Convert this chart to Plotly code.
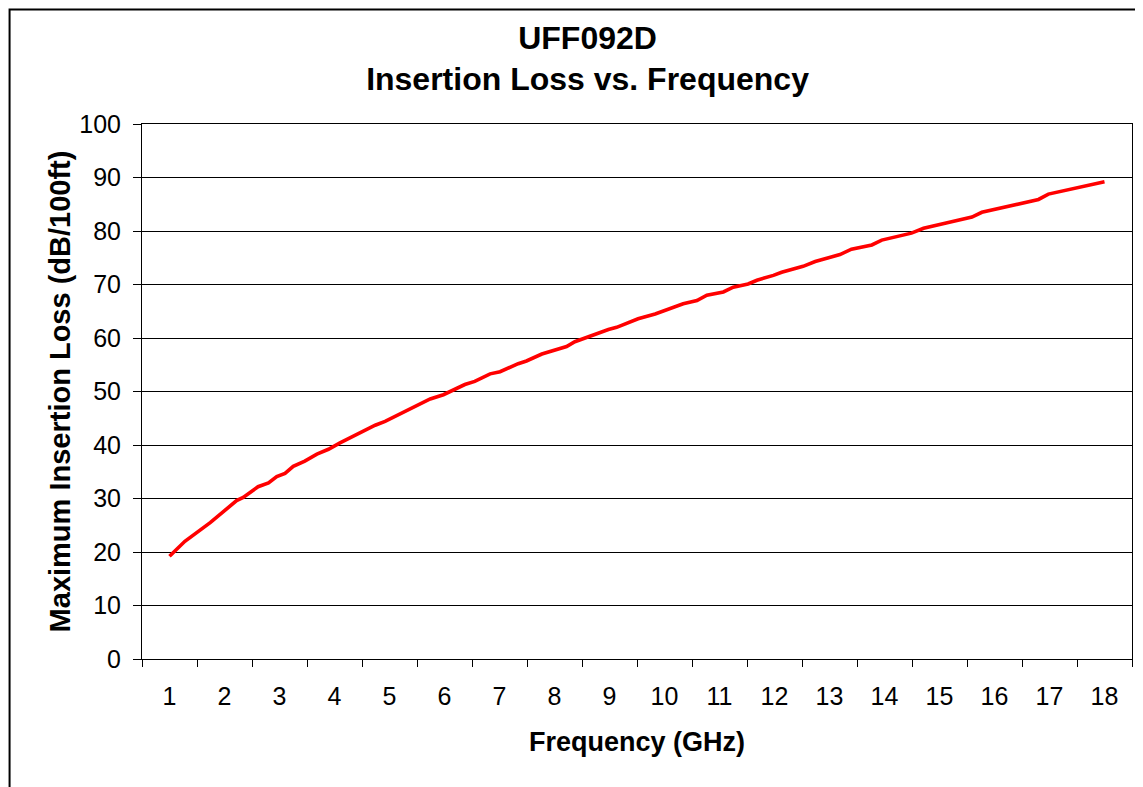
import plotly.graph_objects as go

# Frequency (GHz) and maximum insertion loss (dB/100ft)
freq_ghz = [1.00, 1.28, 1.74, 2.22, 2.34, 2.61, 2.80, 2.95, 3.10, 3.25, 3.46, 3.68, 3.89,
            4.10, 4.74, 4.92, 5.74, 5.98, 6.37, 6.55, 6.83, 7.01, 7.34, 7.49, 7.77,
            8.22, 8.37, 8.55, 8.74, 8.98, 9.13, 9.34, 9.52, 9.83, 10.34, 10.59, 10.77,
            11.07, 11.25, 11.52, 11.68, 11.98, 12.13, 12.52, 12.74, 13.19, 13.40, 13.77,
            13.95, 14.49, 14.71, 15.16, 15.59, 15.77, 16.19, 16.80, 16.98, 18.00]
loss_db = [19.2, 22.0, 25.5, 29.6, 30.2, 32.2, 32.9, 34.1, 34.7, 36.0, 37.0, 38.3, 39.2,
           40.4, 43.7, 44.4, 48.6, 49.4, 51.3, 51.9, 53.3, 53.7, 55.2, 55.7, 57.0,
           58.4, 59.3, 60.0, 60.6, 61.6, 62.0, 62.8, 63.6, 64.5, 66.4, 67.0, 68.0,
           68.6, 69.5, 70.1, 70.8, 71.7, 72.3, 73.4, 74.3, 75.6, 76.6, 77.4,
           78.3, 79.6, 80.5, 81.6, 82.6, 83.5, 84.5, 85.9, 86.9, 89.2]

x_tick_vals = list(range(1, 19))
x_tick_text = [str(v) for v in x_tick_vals]
x_between_ticks = [v + 0.5 for v in range(0, 19)]
y_tick_vals = list(range(0, 101, 10))

FONT = "Liberation Sans, Arial, sans-serif"

# The page body has an 8px margin, so the figure is sized to fill the rest of the window
W, H = 1135, 779
ML, MR, MT, MB = 133.5, 11, 115.5, 128
PW = W - ML - MR
PH = H - MT - MB

fig = go.Figure()
fig.add_trace(go.Scatter(
    x=freq_ghz, y=loss_db, mode="lines",
    line=dict(color="#FF0000", width=3.6),
    showlegend=False, hoverinfo="x+y",
))

fig.update_layout(
    width=W, height=H,
    margin=dict(l=ML, r=MR, t=MT, b=MB, pad=0, autoexpand=False),
    paper_bgcolor="white", plot_bgcolor="white",
    font=dict(family=FONT, color="black", size=25),
    title=dict(
        text="<b>UFF092D<br>Insertion Loss vs. Frequency</b>",
        font=dict(family=FONT, size=32, color="black"),
        x=0.5106, xref="container", xanchor="center",
        y=0.948, yref="container", yanchor="top",
    ),
    showlegend=False,
)

fig.update_xaxes(
    range=[0.5, 18.5], automargin=False,
    tickmode="array", tickvals=x_tick_vals, ticktext=x_tick_text,
    ticks="", showgrid=False, zeroline=False,
    showline=True, linecolor="black", linewidth=1, mirror=True,
    tickfont=dict(family=FONT, size=25, color="black"),
    ticklabelstandoff=15,
    minor=dict(tickmode="array", tickvals=x_between_ticks, ticks="outside",
               ticklen=7, tickcolor="black", tickwidth=1, showgrid=False),
    title=dict(text="<b>Frequency (GHz)</b>",
               font=dict(family=FONT, size=27, color="black"), standoff=23),
)

fig.update_yaxes(
    range=[0, 100], automargin=False,
    tickmode="array", tickvals=y_tick_vals,
    ticks="outside", ticklen=8, tickcolor="black", tickwidth=1,
    showgrid=True, gridcolor="black", gridwidth=1, zeroline=False,
    showline=True, linecolor="black", linewidth=1, mirror=True,
    tickfont=dict(family=FONT, size=25, color="black"),
    ticklabelstandoff=7,
    title=dict(text="<b>Maximum Insertion Loss (dB/100ft)</b>",
               font=dict(family=FONT, size=29, color="black"), standoff=0),
)

# Outer chart border (runs past the right and bottom edges of the view)
fig.add_shape(type="rect", xref="paper", yref="paper",
              x0=(1 - ML) / PW, x1=(W + 20 - ML) / PW,
              y0=-(MB + 20) / PH, y1=(PH + MT - 1) / PH,
              line=dict(color="black", width=2), fillcolor="rgba(0,0,0,0)", layer="above")

fig.write_html("out.html")
